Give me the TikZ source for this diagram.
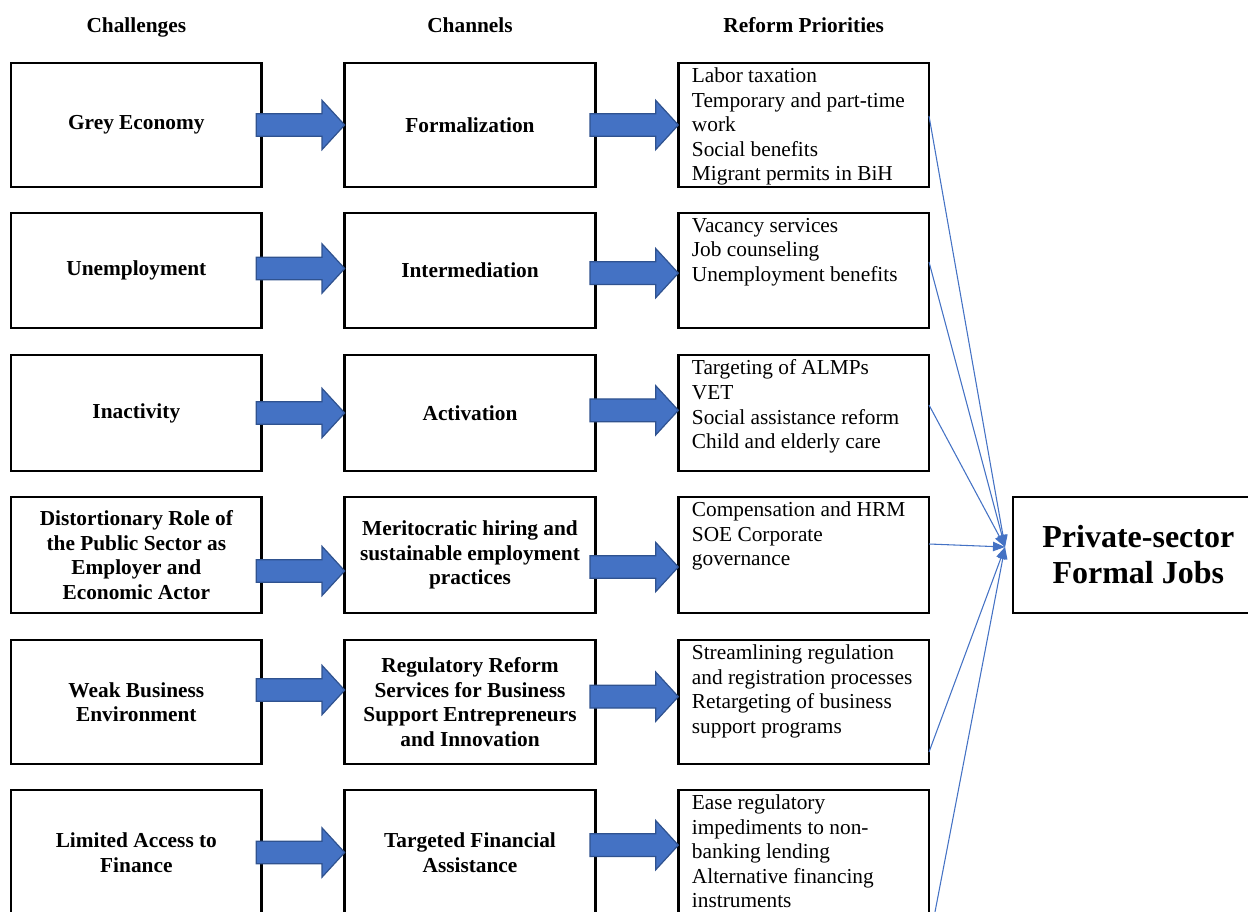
\documentclass[tikz,border=0pt]{standalone}
\usepackage{fontspec}
\setmainfont{Liberation Serif}
\usetikzlibrary{positioning, calc, arrows.meta}
\definecolor{wordblue}{HTML}{4472C4}
\definecolor{wordbluedark}{HTML}{2F528F}

% block arrow between two boxes: from, to, vertical offset
\newcommand{\fatarrow}[3]{%
  \path ([xshift=-4pt,yshift=#3]#1.east) coordinate (fa-s) ([yshift=#3]#2.west) coordinate (fa-t);
  \draw[fatarrow] ($(fa-s)+(0,8.5pt)$) -- ($(fa-t)+(-17pt,8.5pt)$) -- ($(fa-t)+(-17pt,18.5pt)$)
    -- (fa-t) -- ($(fa-t)+(-17pt,-18.5pt)$) -- ($(fa-t)+(-17pt,-8.5pt)$) -- ($(fa-s)+(0,-8.5pt)$) -- cycle;}

\begin{document}
\begin{tikzpicture}[
    font=\fontsize{16}{18.4}\selectfont,
    % Box styles
    chall/.style={rectangle, draw=black, line width=1.8pt, outer sep=0pt, minimum width=188pt, align=center, font=\fontsize{16}{18.4}\selectfont\bfseries},
    channel/.style={chall},
    prio/.style={rectangle, draw=black, line width=1.8pt, outer sep=0pt, minimum width=188pt},
    priotext/.style={anchor=north west, align=left, inner xsep=10pt, inner ysep=3.5pt},
    head/.style={inner sep=0pt, text height=11pt, text depth=3.5pt, font=\fontsize{16}{18.4}\selectfont\bfseries},
    % Arrow styles
    fatarrow/.style={fill=wordblue, draw=wordbluedark, line width=0.9pt, line join=miter},
    joblink/.style={draw=wordblue, line width=0.8pt, -{Triangle[length=9pt,width=7pt]}},
]
\useasboundingbox (0,0) rectangle (936pt,-684pt);
\clip (0,0) rectangle (936pt,-684pt);

% ============================================================================
% CHALLENGES
% ============================================================================
\node[chall, minimum height=93pt, anchor=north west] (grey) at (8.25pt,-47.25pt) {Grey Economy};
\node[chall, minimum height=86.25pt, below=19.5pt of grey] (unemp) {Unemployment};
\node[chall, minimum height=87pt, below=20.25pt of unemp] (inact) {Inactivity};
\node[chall, minimum height=87pt, below=19.5pt of inact] (public) {Distortionary Role of\\the Public Sector as\\Employer and\\Economic Actor};
\node[chall, minimum height=93pt, below=20.25pt of public] (business) {Weak Business\\Environment};
\node[chall, minimum height=93.75pt, below=19.5pt of business] (finance) {Limited Access to\\Finance};

% ============================================================================
% CHANNELS
% ============================================================================
\node[channel, minimum height=93pt, right=62.25pt of grey] (formal) {Formalization};
\node[channel, minimum height=86.25pt, right=62.25pt of unemp] (interm) {Intermediation};
\node[channel, minimum height=87pt, right=62.25pt of inact] (activ) {Activation};
\node[channel, minimum height=87pt, right=62.25pt of public] (merit) {Meritocratic hiring and\\sustainable employment\\practices};
\node[channel, minimum height=93pt, right=62.25pt of business] (regul) {Regulatory Reform\\Services for Business\\Support Entrepreneurs\\and Innovation};
\node[channel, minimum height=93.75pt, right=62.25pt of finance] (targfin) {Targeted Financial\\Assistance};

% ============================================================================
% REFORM PRIORITIES
% ============================================================================
\node[prio, minimum height=93pt, right=62.25pt of formal] (labor) {};
\node[priotext] (labortext) at (labor.north west) {Labor taxation\\Temporary and part-time\\work\\Social benefits\\Migrant permits in BiH};
\node[prio, minimum height=86.25pt, right=62.25pt of interm] (vacancy) {};
\node[priotext] (vacancytext) at (vacancy.north west) {Vacancy services\\Job counseling\\Unemployment benefits};
\node[prio, minimum height=87pt, right=62.25pt of activ] (almp) {};
\node[priotext] (almptext) at (almp.north west) {Targeting of ALMPs\\VET\\Social assistance reform\\Child and elderly care};
\node[prio, minimum height=87pt, right=62.25pt of merit] (comp) {};
\node[priotext] (comptext) at (comp.north west) {Compensation and HRM\\SOE Corporate\\governance};
\node[prio, minimum height=93pt, right=62.25pt of regul] (stream) {};
\node[priotext] (streamtext) at (stream.north west) {Streamlining regulation\\and registration processes\\Retargeting of business\\support programs};
\node[prio, minimum height=93.75pt, right=62.25pt of targfin] (ease) {};
\node[priotext] (easetext) at (ease.north west) {Ease regulatory\\impediments to non-\\banking lending\\Alternative financing\\instruments};

% Outcome
\node[chall, font=\fontsize{24}{27}\selectfont\bfseries, minimum height=87pt, right=63pt of comp] (jobs) {Private-sector\\Formal Jobs};

% Column headers
\node[head, above=19pt of grey] (hchall) {Challenges};
\node[head, above=19pt of formal] (hchan) {Channels};
\node[head, above=19pt of labor] (hprio) {Reform Priorities};

% ============================================================================
% BLOCK ARROWS
% ============================================================================
\fatarrow{grey}{formal}{0pt}
\fatarrow{formal}{labor}{0pt}
\fatarrow{unemp}{interm}{1.5pt}
\fatarrow{interm}{vacancy}{-2pt}
\fatarrow{inact}{activ}{0pt}
\fatarrow{activ}{almp}{2pt}
\fatarrow{public}{merit}{-12pt}
\fatarrow{merit}{comp}{-9pt}
\fatarrow{business}{regul}{9pt}
\fatarrow{regul}{stream}{4pt}
\fatarrow{finance}{targfin}{0pt}
\fatarrow{targfin}{ease}{5.5pt}

% ============================================================================
% LINKS TO OUTCOME
% ============================================================================
\coordinate (hub) at ([xshift=-6pt,yshift=6pt]jobs.west);
\coordinate (offpage) at ([yshift=-68pt]ease.east);

\draw[joblink] ([yshift=6.75pt]labor.east) -- (hub);
\draw[joblink] ([yshift=6.4pt]vacancy.east) -- (hub);
\draw[joblink] ([yshift=6pt]almp.east) -- (hub);
\draw[joblink] ([yshift=8.25pt]comp.east) -- (hub);
\draw[joblink] ([yshift=-37.5pt]stream.east) -- (hub);
\draw[joblink] (offpage) -- (hub);

\end{tikzpicture}
\end{document}
